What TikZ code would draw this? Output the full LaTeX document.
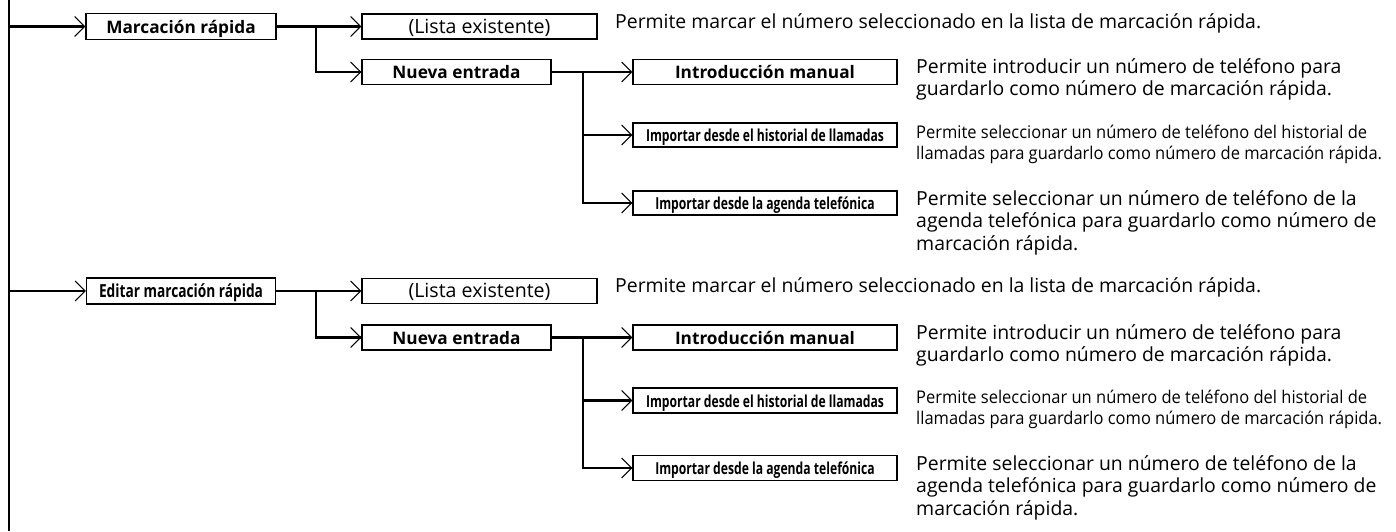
\documentclass[tikz,border=0pt]{standalone}
\usepackage{fontspec}
\setmainfont{Open Sans}
\usetikzlibrary{arrows.meta}
\newlength\measw
\newcommand\fitsize[3]{\settowidth\measw{\normalfont\fontsize{10}{12}\selectfont #3}\pgfmathsetmacro\fittmp{10*#2/\measw}\global\let#1\fittmp}
\newcommand\fitscale[3]{\settowidth\measw{\normalfont #3}\pgfmathsetmacro\fittmp{#2/\measw}\global\let#1\fittmp}
\newcommand\lines[1]{\begin{tabular}[t]{@{}l@{}}#1\end{tabular}}
\gdef\csz{16.5}
\gdef\esz{18}
\gdef\hsz{17.5}
\tikzset{
  conn/.style={line width=2.2pt},
  arr/.style={line width=2.2pt,-{Straight Barb[length=10pt,width=20pt,line width=1pt]}},
  box/.style={draw,line width=1.3pt,inner sep=0pt,minimum height=25pt,text height=16.5pt,text depth=3pt},
  bfont/.style={font=\fontsize{\bsz}{\bsz}\selectfont\bfseries},
  lfont/.style={font=\fontsize{\lsz}{\lsz}\selectfont},
  cfont/.style={font=\fontsize{\csz}{\csz}\selectfont\bfseries},
  efont/.style={font=\fontsize{\esz}{\esz}\selectfont\bfseries},
  desc/.style={anchor=base west,inner sep=0pt,font=\fontsize{\dsz}{22.5}\selectfont},
  descc/.style={anchor=base west,inner sep=0pt,font=\fontsize{\hsz}{21}\selectfont},
}
\begin{document}
\fitsize\dsz{646}{Permite marcar el número seleccionado en la lista de marcación rápida.}%
\fitsize\bsz{180}{\bfseries Introducción manual}%
\fitsize\lsz{142}{(Lista existente)}%
\fitscale\cx{238}{\fontsize{\csz}{18}\selectfont\bfseries Importar desde el historial de llamadas}%
\fitscale\ex{164}{\fontsize{\esz}{20}\selectfont\bfseries Editar marcación rápida}%
\fitscale\hx{451}{\fontsize{\hsz}{21}\selectfont Permite seleccionar un número de teléfono del historial de}%
\begin{tikzpicture}[x=1pt,y=-1pt]
\useasboundingbox (0,0) rectangle (1396,531);
\coordinate (top) at (9,0);
\coordinate (bot) at (9,531);
\draw[line width=2.6pt] (top) -- (bot);
% ---------- block 1
\node[box,bfont,minimum width=190pt,minimum height=26pt] (a1) at (181,26.5) {Marcación rápida};
\node[box,lfont,minimum width=235pt] (l1) at (479.5,26.5) {(Lista existente)};
\node[box,bfont,minimum width=189pt] (n1) at (456.5,72) {Nueva entrada};
\node[box,bfont,minimum width=264pt] (i1) at (765,72) {Introducción manual};
\node[box,cfont,minimum width=264pt,minimum height=24pt] (h1) at (765,135) {\scalebox{\cx}[1]{Importar desde el historial de llamadas}};
\node[box,cfont,minimum width=264pt,minimum height=24pt] (g1) at (765,203) {\scalebox{\cx}[1]{Importar desde la agenda telefónica}};
\coordinate (j1) at (9,26.5);
\coordinate (k1) at (316,26.5);
\coordinate (m1) at (583,72);
\draw[arr] (j1) -- (a1.west);
\draw[arr] (a1.east) -- (l1.west);
\draw[conn] (k1) |- (n1.west);
\draw[arr] (k1|-n1.west) -- (n1.west);
\draw[arr] (n1.east) -- (i1.west);
\draw[conn] (m1) |- (g1.west);
\draw[arr] (m1|-h1.west) -- (h1.west);
\draw[arr] (m1|-g1.west) -- (g1.west);
\node[desc] (dl1) at (615,28) {Permite marcar el número seleccionado en la lista de marcación rápida.};
\node[desc] (di1) at (916,73) {\lines{Permite introducir un número de teléfono para\\guardarlo como número de marcación rápida.}};
\node[descc] (dh1) at (916,138) {\scalebox{\hx}[1]{\lines{Permite seleccionar un número de teléfono del historial de\\llamadas para guardarlo como número de marcación rápida.}}};
\node[desc] (dg1) at (916,205) {\lines{Permite seleccionar un número de teléfono de la\\agenda telefónica para guardarlo como número de\\marcación rápida.}};
% ---------- block 2
\node[box,efont,minimum width=189pt,minimum height=26pt] (a2) at (181,291) {\scalebox{\ex}[1]{Editar marcación rápida}};
\node[box,lfont,minimum width=235pt] (l2) at (479.5,291) {(Lista existente)};
\node[box,bfont,minimum width=189pt] (n2) at (456.5,337.5) {Nueva entrada};
\node[box,bfont,minimum width=264pt] (i2) at (765,337.5) {Introducción manual};
\node[box,cfont,minimum width=264pt] (h2) at (765,400.5) {\scalebox{\cx}[1]{Importar desde el historial de llamadas}};
\node[box,cfont,minimum width=264pt] (g2) at (765,468) {\scalebox{\cx}[1]{Importar desde la agenda telefónica}};
\coordinate (j2) at (9,291);
\coordinate (k2) at (316,291);
\coordinate (m2) at (583,337.5);
\draw[arr] (j2) -- (a2.west);
\draw[arr] (a2.east) -- (l2.west);
\draw[conn] (k2) |- (n2.west);
\draw[arr] (k2|-n2.west) -- (n2.west);
\draw[arr] (n2.east) -- (i2.west);
\draw[conn] (m2) |- (g2.west);
\draw[arr] (m2|-h2.west) -- (h2.west);
\draw[arr] (m2|-g2.west) -- (g2.west);
\node[desc] (dl2) at (615,292.5) {Permite marcar el número seleccionado en la lista de marcación rápida.};
\node[desc] (di2) at (916,339) {\lines{Permite introducir un número de teléfono para\\guardarlo como número de marcación rápida.}};
\node[descc] (dh2) at (916,403.5) {\scalebox{\hx}[1]{\lines{Permite seleccionar un número de teléfono del historial de\\llamadas para guardarlo como número de marcación rápida.}}};
\node[desc] (dg2) at (916,470) {\lines{Permite seleccionar un número de teléfono de la\\agenda telefónica para guardarlo como número de\\marcación rápida.}};
\end{tikzpicture}
\end{document}
